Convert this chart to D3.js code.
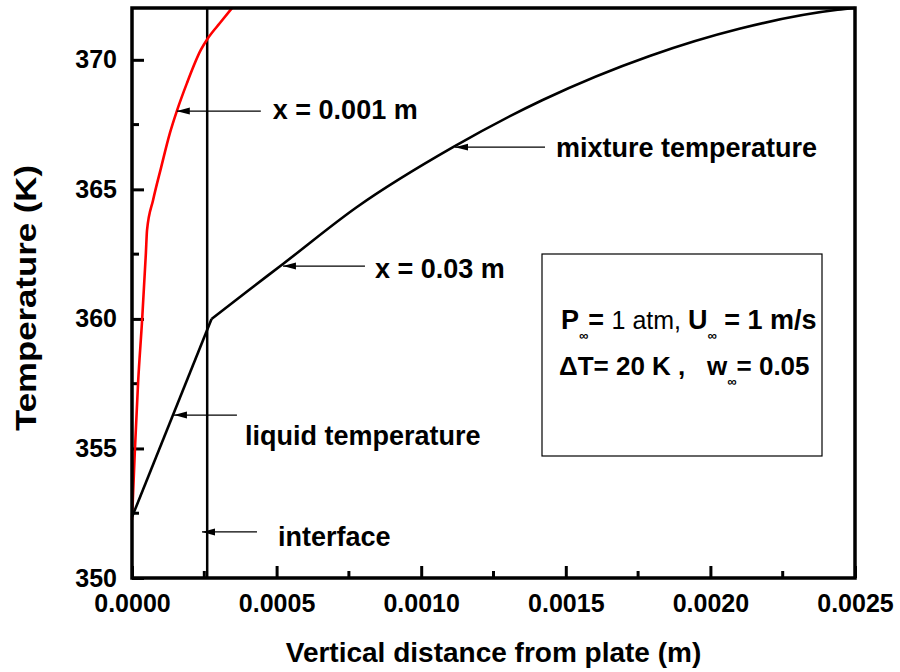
<!DOCTYPE html>
<html>
<head>
<meta charset="utf-8">
<script src="https://cdn.jsdelivr.net/npm/d3@7"></script>
<style>
  body { margin: 0; background: #fff; }
  svg text { font-family: "Liberation Sans", Arial, sans-serif; font-weight: bold; fill: #000; }
</style>
</head>
<body>
<div id="chart"></div>
<script>
// Temperature profiles near the plate (x in m, T in K)
const redProfile = [
  [0, 352.24], [1.0e-5, 354.94], [2.1e-5, 357.53], [3.5e-5, 359.96],
  [4.8e-5, 362.54], [5.2e-5, 363.43], [7.3e-5, 364.59], [1.01e-4, 365.86],
  [1.31e-4, 367.17], [1.55e-4, 368.02], [1.90e-4, 369.10], [2.38e-4, 370.38],
  [2.63e-4, 370.84], [3.04e-4, 371.42], [3.46e-4, 372.0]
];
const liquidProfile = [[0, 352.35], [2.75e-4, 360.0]];
const mixtureProfile = [
  [2.75e-4, 360.0], [4.0e-4, 361.08], [5.22e-4, 362.12],
  [7.78e-4, 364.32], [1.11e-3, 366.63], [1.42e-3, 368.45], [1.79e-3, 370.15],
  [2.10e-3, 371.2], [2.44e-3, 371.93], [2.5e-3, 372.0]
];
const interfaceX = 2.6e-4;

const xTicks = [0, 0.0005, 0.001, 0.0015, 0.002, 0.0025];
const yTicks = [350, 355, 360, 365, 370];

// arrow labels and the points their arrows touch (x in m, T in K)
const noteLabels = ['x = 0.001 m', 'mixture temperature', 'x = 0.03 m', 'liquid temperature', 'interface'];
const noteTips = [[1.55e-4, 368.02], [1.117e-3, 366.63], [5.22e-4, 362.04], [1.45e-4, 356.29], [2.42e-4, 351.78]];

// arrow length, gap before text, text baseline offset (px)
const noteLayout = [
  { len: 84, gap: 12, dy: 8 },
  { len: 90, gap: 11, dy: 10 },
  { len: 82, gap: 10, dy: 12 },
  { len: 63, gap: 8, dy: 30 },
  { len: 55, gap: 21, dy: 14 }
];

const width = 900, height = 672;
const margin = { top: 8, right: 45, bottom: 94, left: 132 };

const svg = d3.select('#chart').append('svg')
  .attr('width', width)
  .attr('height', height);

const x = d3.scaleLinear().domain([0, 0.0025]).range([margin.left, width - margin.right]);
const y = d3.scaleLinear().domain([350, 372]).range([height - margin.bottom, margin.top]);

// left-pointing arrowhead, tip at the start of the line
svg.append('defs').append('marker')
  .attr('id', 'head')
  .attr('viewBox', '0 0 13 8')
  .attr('refX', 0).attr('refY', 4)
  .attr('markerWidth', 13).attr('markerHeight', 8)
  .attr('markerUnits', 'userSpaceOnUse')
  .attr('orient', 'auto')
  .append('path')
  .attr('d', 'M0,4 L13,0.5 L13,7.5 Z')
  .attr('fill', '#000');

// minor ticks drawn inside the frame
const xMinor = d3.range(0.00025, 0.0025, 0.0005);
const yMinor = d3.range(352.5, 372, 5);

const xAxis = svg.append('g')
  .attr('transform', `translate(0,${height - margin.bottom})`)
  .call(d3.axisBottom(x).tickValues(xTicks).tickFormat(d3.format('.4f')).tickSizeInner(-12).tickSizeOuter(0).tickPadding(16));
const yAxis = svg.append('g')
  .attr('transform', `translate(${margin.left},0)`)
  .call(d3.axisLeft(y).tickValues(yTicks).tickFormat(d3.format('d')).tickSizeInner(-12).tickSizeOuter(0).tickPadding(15));

[xAxis, yAxis].forEach(g => {
  g.select('.domain').remove();
  g.selectAll('.tick line').attr('stroke', '#000').attr('stroke-width', 3);
  g.selectAll('.tick text').style('font-size', '25px');
});
xAxis.selectAll('.tick text').attr('dy', '0.71em');

svg.append('g').selectAll('line')
  .data(xMinor).join('line')
  .attr('x1', d => x(d)).attr('x2', d => x(d))
  .attr('y1', y(350)).attr('y2', y(350) - 7)
  .attr('stroke', '#000').attr('stroke-width', 3);
svg.append('g').selectAll('line')
  .data(yMinor).join('line')
  .attr('x1', x(0)).attr('x2', x(0) + 7)
  .attr('y1', d => y(d)).attr('y2', d => y(d))
  .attr('stroke', '#000').attr('stroke-width', 3);

const lineLinear = d3.line().x(d => x(d[0])).y(d => y(d[1]));
const lineSmooth = d3.line().x(d => x(d[0])).y(d => y(d[1])).curve(d3.curveMonotoneX);

const plot = svg.append('g');

plot.append('line')
  .attr('x1', x(interfaceX)).attr('x2', x(interfaceX))
  .attr('y1', y(350)).attr('y2', y(372))
  .attr('stroke', '#000').attr('stroke-width', 2.5);

plot.append('path').datum(redProfile)
  .attr('d', lineSmooth)
  .attr('fill', 'none').attr('stroke', '#ff0000').attr('stroke-width', 2.6);
plot.append('path').datum(liquidProfile)
  .attr('d', lineLinear)
  .attr('fill', 'none').attr('stroke', '#000').attr('stroke-width', 2.6);
plot.append('path').datum(mixtureProfile)
  .attr('d', lineSmooth)
  .attr('fill', 'none').attr('stroke', '#000').attr('stroke-width', 2.6);

// arrows and their labels
const note = svg.append('g').selectAll('g').data(noteLabels).join('g');
note.append('line')
  .attr('x1', (d, i) => x(noteTips[i][0])).attr('y1', (d, i) => y(noteTips[i][1]))
  .attr('x2', (d, i) => x(noteTips[i][0]) + noteLayout[i].len).attr('y2', (d, i) => y(noteTips[i][1]))
  .attr('stroke', '#000').attr('stroke-width', 1.3)
  .attr('marker-start', 'url(#head)');
note.append('text')
  .attr('x', (d, i) => x(noteTips[i][0]) + noteLayout[i].len + noteLayout[i].gap)
  .attr('y', (d, i) => y(noteTips[i][1]) + noteLayout[i].dy)
  .style('font-size', '27px')
  .text(d => d);

// parameter box
const box = svg.append('g');
box.append('rect')
  .attr('x', 542).attr('y', 254).attr('width', 280).attr('height', 202)
  .attr('fill', 'none').attr('stroke', '#000').attr('stroke-width', 1.2);

const line1 = box.append('text').attr('x', 561).attr('y', 329)
  .style('font-size', '27px').style('white-space', 'pre');
line1.append('tspan').text('P');
line1.append('tspan').attr('dy', 11).style('font-size', '13px').text('∞');
line1.append('tspan').attr('dy', -11).text('= ');
line1.append('tspan').style('font-weight', 'normal').style('font-size', '25px').text('1 atm, ');
line1.append('tspan').text('U');
line1.append('tspan').attr('dy', 11).style('font-size', '13px').text('∞');
line1.append('tspan').attr('dy', -11).text(' = 1 m/s');

const line2 = box.append('text').attr('x', 559).attr('y', 375)
  .style('font-size', '26px').style('white-space', 'pre');
line2.append('tspan').text('ΔT= 20 K ,   w');
line2.append('tspan').attr('dy', 11).style('font-size', '13px').text('∞');
line2.append('tspan').attr('dy', -11).text('= 0.05');

// frame
svg.append('rect')
  .attr('x', x(0)).attr('y', y(372))
  .attr('width', x(0.0025) - x(0)).attr('height', y(350) - y(372))
  .attr('fill', 'none').attr('stroke', '#000').attr('stroke-width', 3.5);

svg.append('text')
  .attr('x', (x(0) + x(0.0025)) / 2).attr('y', 662)
  .attr('text-anchor', 'middle')
  .style('font-size', '28px')
  .text('Vertical distance from plate (m)');

svg.append('text')
  .attr('transform', `translate(36,298) rotate(-90)`)
  .attr('text-anchor', 'middle')
  .style('font-size', '29px')
  .attr('textLength', 266).attr('lengthAdjust', 'spacingAndGlyphs')
  .text('Temperature (K)');
</script>
</body>
</html>
